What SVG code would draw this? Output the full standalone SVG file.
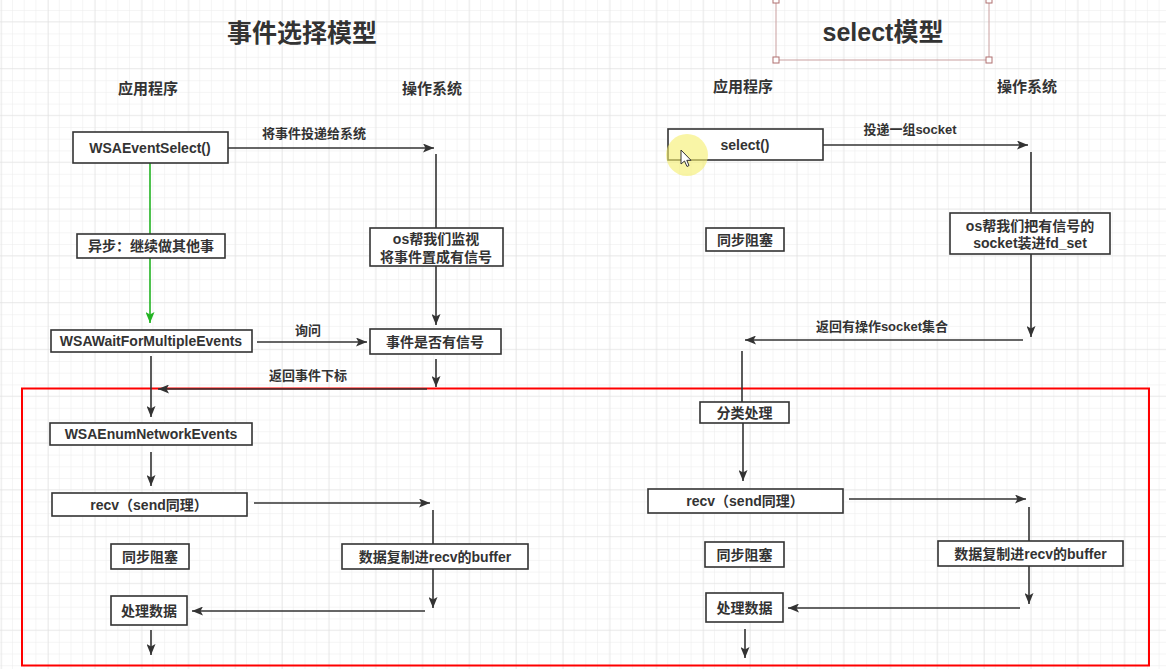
<svg xmlns="http://www.w3.org/2000/svg" width="1166" height="669" viewBox="0 0 1166 669">
<style>
text{font-family:"Liberation Sans","Noto Sans CJK SC",sans-serif;font-weight:bold;fill:#333;text-anchor:middle;dominant-baseline:central}
.box{fill:#fff;stroke:#333;stroke-width:1.6}
.t14{font-size:14px}
.t13{font-size:13px}
.t15{font-size:15px}
.title{font-size:25px}
.c{fill:none;stroke:#333;stroke-width:1.6}
.arr{marker-end:url(#ah)}
</style>
<defs>
<pattern id="gminor" width="11.7" height="11.7" patternUnits="userSpaceOnUse" x="1.3" y="-0.7">
<path d="M11.7,0 V11.7 M0,11.7 H11.7" fill="none" stroke="#ececec" stroke-width="1"/>
</pattern>
<pattern id="gmajor" width="46.8" height="46.8" patternUnits="userSpaceOnUse" x="2.2" y="22.2">
<path d="M46.8,0 V46.8 M0,46.8 H46.8" fill="none" stroke="#e0e0e0" stroke-width="1"/>
</pattern>
<marker id="ah" markerUnits="userSpaceOnUse" markerWidth="12" markerHeight="9" refX="11" refY="4.5" orient="auto">
<path d="M0,0 L11,4.5 L0,9 L2.5,4.5 z" fill="#333"/>
</marker>
<marker id="ahg" markerUnits="userSpaceOnUse" markerWidth="12" markerHeight="9" refX="11" refY="4.5" orient="auto">
<path d="M0,0 L11,4.5 L0,9 L2.5,4.5 z" fill="#22b322"/>
</marker>
</defs>
<rect width="1166" height="669" fill="#fff"/>
<rect width="1166" height="669" fill="url(#gminor)"/>
<rect width="1166" height="669" fill="url(#gmajor)"/>

<!-- titles -->
<g id="title-left"><text class="title" x="302" y="33">事件选择模型</text></g>
<g id="title-right">
<rect x="776" y="-6" width="213" height="66" fill="none" stroke="#c9a0a0" stroke-width="1"/>
<rect x="773" y="-3" width="6" height="6" fill="#fff" stroke="#b07070" stroke-width="1"/>
<rect x="986" y="-3" width="6" height="6" fill="#fff" stroke="#b07070" stroke-width="1"/>
<rect x="773" y="57" width="6" height="6" fill="#fff" stroke="#b07070" stroke-width="1"/>
<rect x="986" y="57" width="6" height="6" fill="#fff" stroke="#b07070" stroke-width="1"/>
<text class="title" x="883" y="32">select模型</text>
</g>
<g id="hdr-app-l"><text class="t15" x="148" y="88">应用程序</text></g>
<g id="hdr-os-l"><text class="t15" x="432" y="88">操作系统</text></g>
<g id="hdr-app-r"><text class="t15" x="743" y="86">应用程序</text></g>
<g id="hdr-os-r"><text class="t15" x="1027" y="86">操作系统</text></g>

<!-- red frame -->
<rect id="frame" x="22" y="388.5" width="1127" height="277" fill="none" stroke="#f00" stroke-width="2"/>

<!-- connectors -->
<g id="connectors">
<!-- left -->
<line class="c arr" x1="228" y1="148" x2="434" y2="148"/>
<line x1="150" y1="163" x2="150" y2="323" stroke="#22b322" stroke-width="1.6" marker-end="url(#ahg)"/>
<line class="c" x1="436" y1="154" x2="436" y2="228"/>
<line class="c arr" x1="436" y1="266" x2="436" y2="325"/>
<line class="c arr" x1="257" y1="342" x2="367" y2="342"/>
<line class="c arr" x1="436" y1="359" x2="436" y2="387"/>
<line class="c arr" x1="427" y1="389" x2="158" y2="389"/>
<line class="c arr" x1="151" y1="356" x2="151" y2="417"/>
<line class="c arr" x1="151" y1="452" x2="151" y2="486"/>
<line class="c arr" x1="254" y1="503" x2="430" y2="503"/>
<line class="c" x1="433" y1="510" x2="433" y2="544"/>
<line class="c arr" x1="433" y1="569" x2="433" y2="608"/>
<line class="c arr" x1="425" y1="611" x2="192" y2="611"/>
<line class="c arr" x1="151" y1="630" x2="151" y2="655"/>
<!-- right -->
<line class="c arr" x1="823" y1="145" x2="1028" y2="145"/>
<line class="c" x1="1031" y1="152" x2="1031" y2="212"/>
<line class="c arr" x1="1031" y1="254" x2="1031" y2="337"/>
<line class="c arr" x1="1023" y1="340" x2="745" y2="340"/>
<line class="c" x1="742" y1="351" x2="742" y2="402"/>
<line class="c arr" x1="743" y1="423" x2="743" y2="481"/>
<line class="c arr" x1="849" y1="499" x2="1026" y2="499"/>
<line class="c" x1="1029" y1="507" x2="1029" y2="541"/>
<line class="c arr" x1="1029" y1="566" x2="1029" y2="604"/>
<line class="c arr" x1="1020" y1="608" x2="788" y2="608"/>
<line class="c arr" x1="745" y1="629" x2="745" y2="658"/>
</g>

<!-- connector labels -->
<g id="labels">
<text class="t13" x="314" y="133">将事件投递给系统</text>
<text class="t13" x="308" y="330">询问</text>
<text class="t13" x="308" y="375">返回事件下标</text>
<text class="t13" x="910" y="129">投递一组socket</text>
<text class="t13" x="882" y="326">返回有操作socket集合</text>
</g>

<!-- left nodes -->
<g id="n-wsaeventselect"><rect class="box" x="73" y="132" width="155" height="31"/><text class="t14" x="150" y="148">WSAEventSelect()</text></g>
<g id="n-async"><rect class="box" x="77" y="234" width="148" height="24"/><text class="t14" x="151" y="246">异步：继续做其他事</text></g>
<g id="n-os-monitor"><rect class="box" x="370" y="228" width="133" height="38"/><text class="t14" x="436" y="238.5">os帮我们监视</text><text class="t14" x="436" y="256.5">将事件置成有信号</text></g>
<g id="n-wait"><rect class="box" x="51" y="330" width="201" height="22"/><text class="t14" x="151" y="341">WSAWaitForMultipleEvents</text></g>
<g id="n-signal"><rect class="box" x="370" y="329" width="131" height="25"/><text class="t14" x="435" y="341.5">事件是否有信号</text></g>
<g id="n-enum"><rect class="box" x="50" y="423" width="202" height="22"/><text class="t14" x="151" y="434">WSAEnumNetworkEvents</text></g>
<g id="n-recv-l"><rect class="box" x="52" y="493" width="195" height="23"/><text class="t14" x="149" y="504.5">recv（send同理）</text></g>
<g id="n-sync-l"><rect class="box" x="111" y="544" width="78" height="25"/><text class="t14" x="150" y="556.5">同步阻塞</text></g>
<g id="n-copy-l"><rect class="box" x="342" y="544" width="186" height="25"/><text class="t14" x="435" y="556.5">数据复制进recv的buffer</text></g>
<g id="n-proc-l"><rect class="box" x="111" y="596" width="76" height="29"/><text class="t14" x="149" y="610.5">处理数据</text></g>

<!-- right nodes -->
<g id="n-select"><rect class="box" x="668" y="129" width="155" height="31"/><text class="t14" x="745" y="145">select()</text></g>
<g id="n-os-fdset"><rect class="box" x="950" y="213" width="160" height="41"/><text class="t14" x="1030" y="226">os帮我们把有信号的</text><text class="t14" x="1030" y="243">socket装进fd_set</text></g>
<g id="n-sync-top-r"><rect class="box" x="706" y="228" width="78" height="23"/><text class="t14" x="745" y="239.5">同步阻塞</text></g>
<g id="n-classify"><rect class="box" x="700" y="402" width="89" height="21"/><text class="t14" x="744.5" y="412.5">分类处理</text></g>
<g id="n-recv-r"><rect class="box" x="648" y="489" width="195" height="24"/><text class="t14" x="745" y="501">recv（send同理）</text></g>
<g id="n-sync-r"><rect class="box" x="705" y="542" width="79" height="25"/><text class="t14" x="744.5" y="554.5">同步阻塞</text></g>
<g id="n-copy-r"><rect class="box" x="938" y="541" width="185" height="25"/><text class="t14" x="1030.5" y="553.5">数据复制进recv的buffer</text></g>
<g id="n-proc-r"><rect class="box" x="706" y="593" width="77" height="29"/><text class="t14" x="744.5" y="607.5">处理数据</text></g>

<!-- cursor highlight -->
<g id="cursor">
<circle cx="687" cy="155" r="21" fill="#f5ef6a" fill-opacity="0.6"/>
<path d="M681,150 L681,164 L684.5,161 L687,166.5 L689,165.5 L686.8,160.3 L691,160.3 Z" fill="#fff" stroke="#333" stroke-width="1"/>
</g>
</svg>
